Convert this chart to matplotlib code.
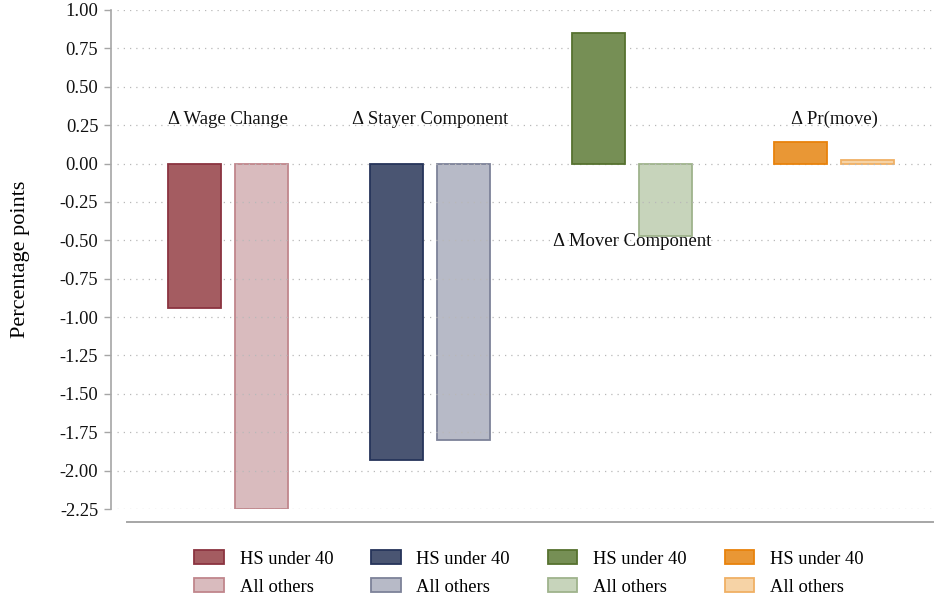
import matplotlib
matplotlib.use("Agg")
import matplotlib.pyplot as plt
from matplotlib.patches import Patch
from matplotlib.lines import Line2D

plt.rcParams['font.family'] = ['Liberation Serif', 'DejaVu Serif']

# Decomposition components
groups = ["\u0394 Wage Change", "\u0394 Stayer Component", "\u0394 Mover Component", "\u0394 Pr(move)"]
label_y = [0.29, 0.29, -0.51, 0.29]
hs_under_40 = [-0.94, -1.93, 0.85, 0.14]
all_others = [-2.25, -1.80, -0.47, 0.02]
series_names = ["HS under 40", "All others"]
y_ticks = [1.00, 0.75, 0.50, 0.25, 0.00, -0.25, -0.50, -0.75, -1.00,
           -1.25, -1.50, -1.75, -2.00, -2.25]

# Dark (fill, edge) and light (fill, edge) colours per group
dark_fill = ["#A45C61", "#4A5572", "#768F55", "#E99735"]
dark_edge = ["#8B3440", "#26345A", "#56722F", "#E8820C"]
light_fill = ["#D9BBBE", "#B7BAC7", "#C7D4BB", "#F6D3A6"]
light_edge = ["#C0868C", "#7D8299", "#9FB38C", "#F0B064"]

fig = plt.figure(figsize=(9.38, 6.02), dpi=100)
ax = fig.add_axes([117 / 938, 1 - 509 / 602, 816 / 938, 499 / 602])

pitch = 0.332
width = 0.262
for i in range(len(groups)):
    ax.bar(i - pitch / 2, hs_under_40[i], width=width, color=dark_fill[i],
           edgecolor=dark_edge[i], linewidth=1.3, zorder=3)
    ax.bar(i + pitch / 2, all_others[i], width=width, color=light_fill[i],
           edgecolor=light_edge[i], linewidth=1.3, zorder=1)
    ax.text(i, label_y[i], groups[i], ha="center", va="center",
            fontsize=13.5, color="#111111", zorder=4)

ax.set_xlim(-0.5495, 3.49)
ax.set_ylim(-2.25, 1.00)
ax.set_yticks(y_ticks)
ax.set_yticklabels([f"{t:.2f}" for t in y_ticks])
ax.set_xticks([])

# Dotted horizontal grid, visible through the light bars
for t in y_ticks:
    ax.axhline(t, color="#B8B8B8", linestyle=(0, (1, 4)), linewidth=0.9, zorder=2)

for s in ["top", "right", "bottom"]:
    ax.spines[s].set_visible(False)
ax.spines["left"].set_position(("outward", 4))
ax.spines["left"].set_color("#A6A6A6")
ax.spines["left"].set_linewidth(1.2)
ax.tick_params(axis="y", length=5, width=1.0, color="#A6A6A6", pad=4.5,
               labelcolor="#111111", labelsize=13.3)

# Detached baseline under the plot
ax.add_line(Line2D([10 / 816, 1.0], [-13 / 499, -13 / 499], transform=ax.transAxes,
                   color="#A6A6A6", linewidth=1.4, clip_on=False))

ax.set_ylabel("Percentage points", fontsize=16, labelpad=21)

handles = []
for i in range(len(groups)):
    handles.append(Patch(facecolor=dark_fill[i], edgecolor=dark_edge[i], linewidth=1.3,
                         label=series_names[0]))
    handles.append(Patch(facecolor=light_fill[i], edgecolor=light_edge[i], linewidth=1.3,
                         label=series_names[1]))
fig.legend(handles=handles, ncol=4, loc="center", bbox_to_anchor=(529 / 938, 1 - 573 / 602),
           frameon=False, fontsize=13.3, handlelength=1.6, handleheight=0.75,
           columnspacing=2.05, labelspacing=0.58, handletextpad=0.85)

fig.savefig("out.png", dpi=100)
